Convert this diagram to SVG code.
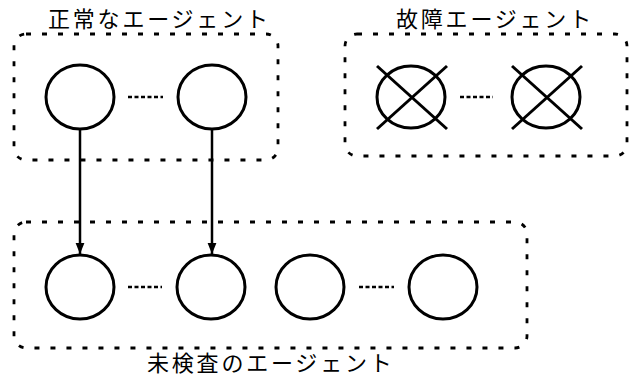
<svg xmlns="http://www.w3.org/2000/svg" width="632" height="378" viewBox="0 0 632 378">
<defs>
<marker id="ah" viewBox="0 0 10 10" refX="10" refY="5" markerWidth="4.4" markerHeight="4.4" orient="auto" markerUnits="strokeWidth">
<path d="M0,1 L10,5 L0,9 Z" fill="#000"/>
</marker>
<style>
.grp{fill:none;stroke:#000;stroke-width:2.8;stroke-dasharray:5 11;}
.ag{fill:#fff;stroke:#000;stroke-width:3;}
.x{stroke:#000;stroke-width:3;fill:none;}
.dots{stroke:#000;stroke-width:2.6;stroke-dasharray:4 2.5;fill:none;}
.lbl{font-family:"Liberation Serif","Noto Sans CJK JP",serif;font-size:22px;letter-spacing:2.8px;fill:#000;}
.edge{stroke:#000;stroke-width:2.5;fill:none;}
</style>
</defs>
<rect width="632" height="378" fill="#fff"/>

<g id="group-normal">
<rect class="grp" x="14" y="34" width="264" height="126" rx="12"/>
<text class="lbl" x="48" y="27">正常なエージェント</text>
</g>
<g id="group-fault">
<rect class="grp" x="345" y="34" width="282" height="122" rx="12"/>
<text class="lbl" x="396" y="27">故障エージェント</text>
</g>
<g id="group-unchecked">
<rect class="grp" x="14" y="222" width="513" height="126" rx="12"/>
<text class="lbl" x="147" y="371">未検査のエージェント</text>
</g>

<g id="normal-1"><ellipse class="ag" cx="80" cy="97" rx="34" ry="32"/></g>
<g id="normal-dots"><line class="dots" x1="128" y1="97" x2="163" y2="97"/></g>
<g id="normal-2"><ellipse class="ag" cx="212" cy="97" rx="34" ry="32"/></g>

<g id="fault-1">
<ellipse class="ag" cx="411" cy="97" rx="34" ry="31"/>
<line class="x" x1="377" y1="66" x2="447" y2="129"/>
<line class="x" x1="447" y1="66" x2="377" y2="129"/>
</g>
<g id="fault-dots"><line class="dots" x1="460" y1="97" x2="493" y2="97"/></g>
<g id="fault-2">
<ellipse class="ag" cx="546" cy="97" rx="34" ry="31"/>
<line class="x" x1="512" y1="66" x2="582" y2="129"/>
<line class="x" x1="582" y1="66" x2="512" y2="129"/>
</g>

<g id="unchecked-1"><ellipse class="ag" cx="80" cy="287" rx="34" ry="32"/></g>
<g id="unchecked-dots-1"><line class="dots" x1="128" y1="287" x2="162" y2="287"/></g>
<g id="unchecked-2"><ellipse class="ag" cx="211" cy="287" rx="34" ry="32"/></g>
<g id="unchecked-3"><ellipse class="ag" cx="310" cy="287" rx="34" ry="32"/></g>
<g id="unchecked-dots-2"><line class="dots" x1="359" y1="287" x2="394" y2="287"/></g>
<g id="unchecked-4"><ellipse class="ag" cx="443" cy="287" rx="34" ry="32"/></g>

<g id="connectors">
<line class="edge" x1="80" y1="129" x2="80" y2="254" marker-end="url(#ah)"/>
<line class="edge" x1="212" y1="129" x2="212" y2="254" marker-end="url(#ah)"/>
</g>
</svg>
